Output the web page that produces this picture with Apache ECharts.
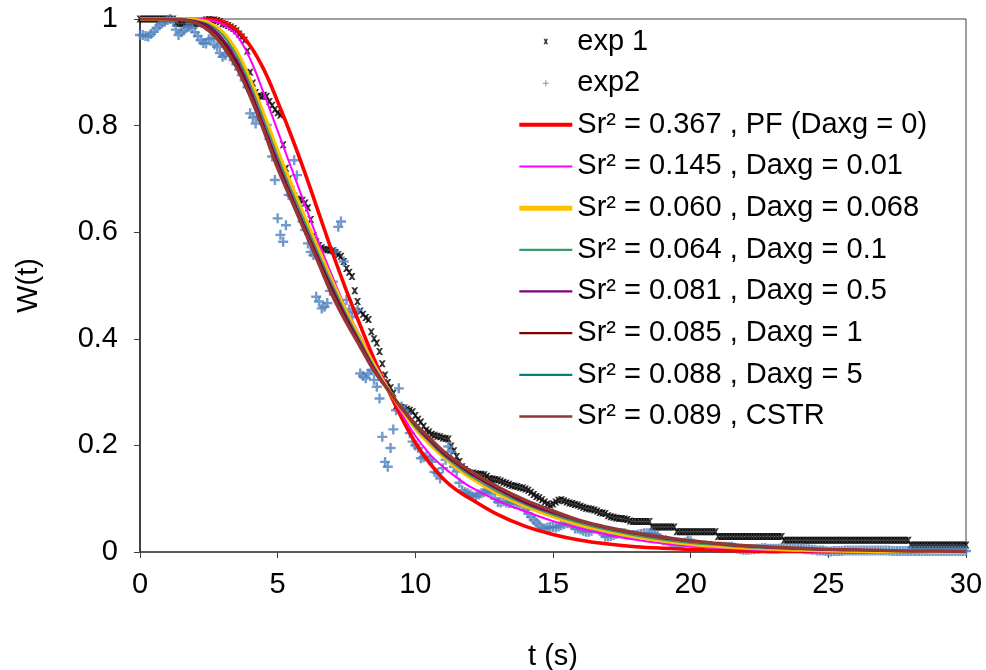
<!DOCTYPE html>
<html><head><meta charset="utf-8">
<script src="https://cdn.jsdelivr.net/npm/echarts@6/dist/echarts.min.js"></script>
<style>html,body{margin:0;padding:0;background:#fff}#c{width:986px;height:670px}</style>
</head><body><div id="c"></div>
<script>
// ---- data ----
const xTicks = [0, 5, 10, 15, 20, 25, 30];
const yTicks = [0, 0.2, 0.4, 0.6, 0.8, 1];
const legendNames = ['exp 1', 'exp2',
  'Sr² = 0.367 , PF (Daxg = 0)', 'Sr² = 0.145 , Daxg = 0.01', 'Sr² = 0.060 , Daxg = 0.068',
  'Sr² = 0.064 , Daxg = 0.1', 'Sr² = 0.081 , Daxg = 0.5', 'Sr² = 0.085 , Daxg = 1',
  'Sr² = 0.088 , Daxg = 5', 'Sr² = 0.089 , CSTR'];
// experimental samples every 0.1 s from 0 to 30 s
const expStep = 0.1;
const exp1 = [
1,1,1,1,1,1,1,1,1,1,
1,1,1,0.992,0.992,0.991,0.992,0.991,0.992,0.992,
0.991,0.992,0.992,0.991,0.998,0.999,0.998,0.998,0.997,0.995,
0.991,0.99,0.988,0.985,0.982,0.978,0.972,0.966,0.96,0.94,
0.9,0.88,0.862,0.855,0.855,0.857,0.855,0.845,0.838,0.83,
0.824,0.82,0.764,0.72,0.7,0.68,0.668,0.662,0.661,0.66,
0.655,0.646,0.624,0.594,0.582,0.575,0.571,0.568,0.567,0.566,
0.565,0.562,0.558,0.555,0.545,0.532,0.525,0.517,0.49,0.47,
0.452,0.446,0.44,0.436,0.413,0.4,0.392,0.376,0.353,0.332,
0.318,0.308,0.298,0.274,0.272,0.271,0.27,0.268,0.266,0.263,
0.256,0.249,0.244,0.236,0.229,0.225,0.221,0.219,0.217,0.216,
0.214,0.213,0.212,0.199,0.19,0.179,0.17,0.16,0.155,0.15,
0.148,0.148,0.147,0.146,0.146,0.145,0.142,0.138,0.137,0.136,
0.135,0.133,0.131,0.129,0.127,0.125,0.124,0.123,0.121,0.12,
0.118,0.116,0.112,0.108,0.104,0.102,0.098,0.094,0.09,0.088,
0.09,0.094,0.097,0.098,0.096,0.094,0.092,0.091,0.089,0.088,
0.086,0.084,0.082,0.081,0.08,0.079,0.077,0.074,0.073,0.072,
0.068,0.066,0.065,0.064,0.063,0.063,0.062,0.061,0.058,0.057,
0.057,0.057,0.057,0.057,0.057,0.057,0.047,0.047,0.047,0.047,
0.047,0.047,0.047,0.047,0.047,0.038,0.038,0.038,0.038,0.038,
0.038,0.038,0.038,0.038,0.038,0.038,0.038,0.038,0.038,0.038,
0.029,0.029,0.029,0.029,0.029,0.029,0.029,0.029,0.029,0.029,
0.029,0.029,0.029,0.029,0.029,0.029,0.029,0.029,0.029,0.029,
0.029,0.029,0.029,0.029,0.022,0.022,0.022,0.022,0.022,0.022,
0.022,0.022,0.022,0.022,0.022,0.022,0.022,0.022,0.022,0.022,
0.022,0.022,0.022,0.022,0.022,0.022,0.022,0.022,0.022,0.022,
0.022,0.022,0.022,0.022,0.022,0.022,0.022,0.022,0.022,0.022,
0.022,0.022,0.022,0.022,0.022,0.022,0.022,0.022,0.022,0.022,
0.013,0.013,0.013,0.013,0.013,0.013,0.013,0.013,0.013,0.013,
0.013,0.013,0.013,0.013,0.013,0.013,0.013,0.013,0.013,0.013,
0.013];
const exp2 = [
0.97,0.97,0.968,0.967,0.972,0.976,0.983,0.988,0.992,0.995,
0.998,1.0,0.995,0.98,0.97,0.975,0.979,0.984,0.986,0.983,
0.975,0.968,0.96,0.955,0.954,0.962,0.964,0.952,0.948,0.936,
0.929,0.932,0.948,0.94,0.923,0.915,0.905,0.895,0.885,0.872,
0.823,0.815,0.804,0.817,0.81,0.805,0.801,0.775,0.742,0.698,
0.626,0.595,0.582,0.613,0.67,0.668,0.735,0.707,0.65,0.62,
0.604,0.579,0.563,0.557,0.479,0.47,0.457,0.46,0.467,0.49,
0.507,0.563,0.61,0.62,0.545,0.473,0.455,0.441,0.45,0.454,
0.335,0.33,0.326,0.335,0.341,0.323,0.31,0.288,0.216,0.169,
0.16,0.195,0.23,0.266,0.307,0.273,0.265,0.26,0.223,0.207,
0.2,0.195,0.176,0.178,0.179,0.173,0.169,0.15,0.148,0.138,
0.157,0.173,0.198,0.188,0.16,0.151,0.13,0.116,0.112,0.11,
0.108,0.104,0.104,0.108,0.11,0.112,0.116,0.114,0.11,0.1,
0.094,0.093,0.095,0.093,0.092,0.092,0.09,0.091,0.091,0.088,
0.079,0.072,0.066,0.06,0.055,0.05,0.045,0.044,0.046,0.047,
0.047,0.046,0.048,0.05,0.052,0.054,0.054,0.05,0.044,0.044,
0.042,0.04,0.038,0.038,0.04,0.044,0.044,0.04,0.035,0.029,
0.029,0.03,0.032,0.034,0.035,0.035,0.035,0.033,0.032,0.032,
0.032,0.033,0.034,0.035,0.035,0.035,0.035,0.033,0.03,0.026,
0.022,0.022,0.02,0.018,0.016,0.014,0.013,0.013,0.018,0.022,
0.02,0.016,0.013,0.012,0.012,0.012,0.011,0.011,0.01,0.01,
0.01,0.01,0.01,0.01,0.01,0.01,0.008,0.006,0.005,0.004,
0.004,0.004,0.005,0.005,0.006,0.006,0.007,0.007,0.006,0.006,
0.006,0.006,0.006,0.007,0.007,0.007,0.007,0.007,0.007,0.007,
0.007,0.006,0.005,0.005,0.004,0.004,0.003,0.003,0.003,0.002,
0.001,0.001,0.002,0.002,0.002,0.002,0.003,0.003,0.003,0.003,
0.003,0.003,0.003,0.003,0.003,0.003,0.003,0.003,0.003,0.003,
0.003,0.003,0.003,0.002,0.002,0.002,0.002,0.002,0.002,0.002,
0.002,0.002,0.002,0.002,0.002,0.002,0.002,0.002,0.002,0.002,
0.002,0.002,0.002,0.002,0.002,0.002,0.002,0.002,0.002,0.002,
0.002];
// model curves
const tModel = [0,0.5,1,1.5,2,2.5,3,3.5,4,4.5,5,5.5,6,6.5,7,7.5,8,8.5,9,9.5,10,10.5,11,11.5,12,13,14,15,16,17,18,19,20,21,22,23,24,25,26,27,28,29,30];
const wPF    = [1,1,1,1,1,1,0.995,0.98,0.95,0.905,0.845,0.78,0.71,0.635,0.56,0.49,0.425,0.362,0.305,0.252,0.205,0.168,0.138,0.116,0.1,0.07,0.048,0.033,0.022,0.015,0.01,0.007,0.005,0.003,0.002,0.001,0.001,0,0,0,0,0,0];
const wD001  = [1,1,1,1,1,0.998,0.99,0.97,0.925,0.86,0.79,0.72,0.65,0.58,0.515,0.455,0.405,0.355,0.31,0.26,0.218,0.185,0.16,0.14,0.122,0.096,0.076,0.058,0.044,0.032,0.023,0.016,0.011,0.008,0.005,0.003,0.002,0.001,0.001,0,0,0,0];
const wD0068 = [1,1,1,1,0.998,0.993,0.975,0.94,0.885,0.82,0.752,0.688,0.625,0.565,0.505,0.45,0.4,0.35,0.306,0.268,0.232,0.204,0.18,0.158,0.14,0.11,0.086,0.067,0.051,0.039,0.029,0.021,0.015,0.011,0.008,0.006,0.004,0.003,0.002,0.001,0.001,0,0];
const wD01   = [1,1,1,1,0.997,0.99,0.97,0.932,0.877,0.81,0.742,0.678,0.617,0.557,0.5,0.445,0.396,0.348,0.306,0.27,0.234,0.207,0.182,0.161,0.143,0.113,0.089,0.07,0.054,0.041,0.031,0.023,0.017,0.013,0.009,0.007,0.005,0.004,0.003,0.002,0.001,0.001,0.001];
const wD05   = [1,1,1,0.999,0.996,0.987,0.963,0.924,0.868,0.8,0.733,0.669,0.609,0.55,0.493,0.44,0.392,0.345,0.305,0.27,0.237,0.21,0.185,0.165,0.147,0.117,0.092,0.073,0.057,0.044,0.034,0.026,0.02,0.015,0.011,0.008,0.006,0.005,0.004,0.003,0.002,0.002,0.001];
const wD1    = [1,1,1,0.999,0.995,0.983,0.958,0.918,0.862,0.795,0.727,0.664,0.605,0.546,0.488,0.436,0.389,0.343,0.305,0.27,0.238,0.212,0.187,0.167,0.149,0.119,0.094,0.075,0.058,0.045,0.035,0.027,0.021,0.016,0.012,0.009,0.007,0.005,0.004,0.003,0.002,0.002,0.001];
const wD5    = [1,1,1,0.999,0.994,0.98,0.953,0.912,0.857,0.791,0.722,0.661,0.602,0.542,0.484,0.432,0.386,0.341,0.305,0.27,0.239,0.214,0.189,0.169,0.151,0.121,0.096,0.076,0.058,0.045,0.036,0.027,0.021,0.016,0.012,0.009,0.007,0.005,0.004,0.003,0.002,0.002,0.001];
const wCSTR  = [1,1,1,0.999,0.993,0.978,0.95,0.91,0.855,0.79,0.72,0.66,0.6,0.54,0.48,0.43,0.385,0.34,0.305,0.27,0.24,0.215,0.19,0.17,0.152,0.122,0.097,0.077,0.059,0.046,0.036,0.028,0.021,0.016,0.012,0.009,0.007,0.005,0.004,0.003,0.002,0.002,0.001];

// ---- build ----
const FONT = 'Liberation Sans, Arial, sans-serif';
const FS = 29;
const X_PATH = 'path://M0,0 L3,0 L5,2.2 L7,0 L10,0 L6.6,5 L10,10 L7,10 L5,7.8 L3,10 L0,10 L3.4,5 Z';
const P_PATH = 'path://M3.8,0 L6.2,0 L6.2,3.8 L10,3.8 L10,6.2 L6.2,6.2 L6.2,10 L3.8,10 L3.8,6.2 L0,6.2 L0,3.8 L3.8,3.8 Z';
const LW = 53, LH = 14;
// legend icons in a LW x LH box (corner specks fix the box, mark stays small)
const box = 'M0,0 L0.01,0 L0,0.01 Z M' + LW + ',' + LH + ' L' + (LW - 0.01) + ',' + LH + ' L' + LW + ',' + (LH - 0.01) + ' Z ';
const X_LEG = 'path://' + box + 'M24.3,4.3 L25.9,4.3 L26.5,5.5 L27.1,4.3 L28.7,4.3 L27.4,7 L28.7,9.7 L27.1,9.7 L26.5,8.5 L25.9,9.7 L24.3,9.7 L25.6,7 Z';
const P_LEG = 'path://' + box + 'M26,4 L27,4 L27,6.5 L29.5,6.5 L29.5,7.5 L27,7.5 L27,10 L26,10 L26,7.5 L23.5,7.5 L23.5,6.5 L26,6.5 Z';
const lineIcon = w => 'path://' + box + 'M0,' + (7 - w / 2) + ' L' + LW + ',' + (7 - w / 2) + ' L' + LW + ',' + (7 + w / 2) + ' L0,' + (7 + w / 2) + ' Z';

const pairs = (xs, ys) => ys.map((v, i) => [xs[i], v]);
const expPairs = ys => ys.map((v, i) => [Math.round(i * expStep * 10) / 10, v]);

const lineDefs = [
  [wPF, '#FF0000', 3.6, 4],
  [wD001, '#FF00FF', 2, 2.2],
  [wD0068, '#FFC000', 4, 5],
  [wD01, '#3A9A68', 2, 2.2],
  [wD05, '#800080', 2, 2.2],
  [wD1, '#800000', 2, 2.2],
  [wD5, '#008080', 2, 2.2],
  [wCSTR, '#953735', 3.4, 2.6]
];

const series = [
  { name: legendNames[0], type: 'scatter', data: expPairs(exp1), symbol: X_PATH, symbolSize: 7,
    itemStyle: { color: '#000000' }, z: 2 },
  { name: legendNames[1], type: 'scatter', data: expPairs(exp2), symbol: P_PATH, symbolSize: 10,
    itemStyle: { color: '#4F81BD' }, z: 2 }
];
lineDefs.forEach((d, i) => {
  series.push({ name: legendNames[i + 2], type: 'line', data: pairs(tModel, d[0]), smooth: 0.4,
    symbol: 'none', lineStyle: { color: d[1], width: d[2] }, itemStyle: { color: d[1] }, z: 3 });
});

const legendData = legendNames.map((n, i) => {
  if (i === 0) return { name: n, icon: X_LEG };
  if (i === 1) return { name: n, icon: P_LEG };
  return { name: n, icon: lineIcon(lineDefs[i - 2][3]) };
});

const chart = echarts.init(document.getElementById('c'), null, { renderer: 'canvas' });
chart.setOption({
  animation: false,
  backgroundColor: '#ffffff',
  grid: { left: 140, right: 20, top: 19, bottom: 118, containLabel: false, outerBoundsMode: 'none',
          show: true, borderColor: '#404040', borderWidth: 1, backgroundColor: 'transparent' },
  legend: {
    orient: 'vertical', left: 514.3, top: 22, itemWidth: LW, itemHeight: LH, itemGap: 12.66,
    textStyle: { fontFamily: FONT, fontSize: FS, color: '#000', lineHeight: 29 },
    data: legendData
  },
  xAxis: {
    type: 'value', min: xTicks[0], max: xTicks[xTicks.length - 1], interval: 5,
    name: 't (s)', nameLocation: 'middle', nameGap: 90,
    nameTextStyle: { fontFamily: FONT, fontSize: FS, color: '#000' },
    axisLine: { lineStyle: { color: '#404040', width: 1.5 } },
    axisTick: { show: true, inside: false, length: 6, lineStyle: { color: '#404040' } },
    axisLabel: { fontFamily: FONT, fontSize: FS, color: '#000', margin: 18 },
    splitLine: { show: false }
  },
  yAxis: {
    type: 'value', min: yTicks[0], max: yTicks[yTicks.length - 1], interval: 0.2,
    name: 'W(t)', nameLocation: 'middle', nameGap: 97, nameRotate: 90,
    nameTextStyle: { fontFamily: FONT, fontSize: FS, color: '#000' },
    axisLine: { lineStyle: { color: '#404040', width: 2 } },
    axisTick: { show: true, inside: false, length: 6, lineStyle: { color: '#404040' } },
    axisLabel: { fontFamily: FONT, fontSize: FS, color: '#000', margin: 22,
                 formatter: v => String(Math.round(v * 10) / 10) },
    splitLine: { show: false }
  },
  series: series
});
</script></body></html>
